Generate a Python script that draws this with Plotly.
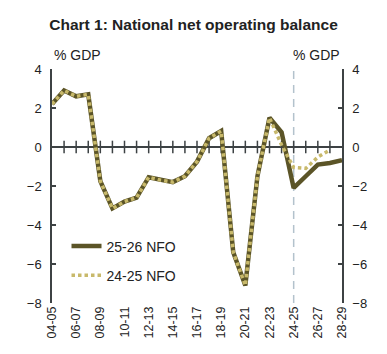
import plotly.graph_objects as go

categories = ["04-05","05-06","06-07","07-08","08-09","09-10","10-11","11-12","12-13",
              "13-14","14-15","15-16","16-17","17-18","18-19","19-20","20-21","21-22",
              "22-23","23-24","24-25","25-26","26-27","27-28","28-29"]
nfo_2526 = [2.2, 2.9, 2.6, 2.7, -1.75, -3.15, -2.8, -2.6, -1.55, -1.7, -1.8, -1.5, -0.75,
            0.45, 0.82, -5.4, -7.1, -1.5, 1.5, 0.75, -2.1, -1.5, -0.9, -0.82, -0.68]
nfo_2425 = [2.2, 2.9, 2.6, 2.7, -1.75, -3.15, -2.8, -2.6, -1.55, -1.7, -1.8, -1.5, -0.75,
            0.45, 0.82, -5.4, -7.1, -1.5, 1.5, 0.1, -1.05, -1.1, -0.52, -0.15, None]
y_ticks = [-8, -6, -4, -2, 0, 2, 4]
x_labels = categories[::2]

DARK = "#5b5427"
LIGHT = "#c8b96b"
AXIS = "#3d4244"
TXT = "#222222"
FONT = "Liberation Sans, Arial, sans-serif"

fig = go.Figure()
# category tick marks across the zero line
fig.add_trace(go.Scatter(x=categories[1:-1], y=[0]*(len(categories)-2), mode="markers",
                         marker=dict(symbol="line-ns", size=9, line=dict(color=AXIS, width=1.5)),
                         showlegend=False, hoverinfo="skip", cliponaxis=False))
fig.add_trace(go.Scatter(x=categories, y=nfo_2526, mode="lines", name="25-26 NFO",
                         line=dict(color=DARK, width=4.5), cliponaxis=False,
                         legendgroup="a"))
fig.add_trace(go.Scatter(x=categories, y=nfo_2425, mode="lines", name="24-25 NFO",
                         line=dict(color=LIGHT, width=3.5, dash="3.5px,3px"), cliponaxis=False,
                         legendgroup="b", yaxis="y2"))

fig.add_shape(type="line", xref="x", yref="y", x0="24-25", x1="24-25", y0=-8, y1=4,
              line=dict(color="#b3c2cc", width=1.5, dash="8px,6px"), layer="below")

fig.update_layout(
    width=387, height=354,
    margin=dict(l=52, r=45, t=69, b=51),
    plot_bgcolor="white", paper_bgcolor="white",
    font=dict(family=FONT, color=TXT, size=12),
    title=dict(text="<b>Chart 1: National net operating balance</b>", x=0.5, xanchor="center",
               y=1 - 25/354, yanchor="middle", font=dict(size=15.5, color=TXT)),
    showlegend=True,
    legend=dict(x=0.05, y=0.31, xanchor="left", yanchor="top", bgcolor="rgba(0,0,0,0)",
                font=dict(size=14, color=TXT), tracegroupgap=8, traceorder="grouped"),
    xaxis=dict(type="category", categoryorder="array", categoryarray=categories,
               range=[0, 24], showgrid=False, showline=False, zeroline=False,
               tickmode="array", tickvals=x_labels, ticktext=x_labels, tickangle=-90,
               ticks="", tickfont=dict(size=12.5, color=TXT)),
    yaxis=dict(range=[-8, 4], tickvals=y_ticks, showgrid=False, showline=True,
               linecolor=AXIS, linewidth=1.5, ticks="inside", ticklen=4, tickcolor=AXIS,
               tickwidth=1.5, zeroline=True, zerolinecolor=AXIS, zerolinewidth=1.5,
               tickfont=dict(size=13, color=TXT), ticklabelstandoff=6),
    yaxis2=dict(range=[-8, 4], tickvals=y_ticks, overlaying="y", side="right", showgrid=False,
                showline=True, linecolor=AXIS, linewidth=1.5, ticks="inside", ticklen=4,
                tickcolor=AXIS, tickwidth=1.5, zeroline=False,
                tickfont=dict(size=13, color=TXT), ticklabelstandoff=6),
    annotations=[
        dict(text="% GDP", xref="paper", yref="paper", x=0, y=1 + 14/234, xanchor="left",
             yanchor="middle", showarrow=False, font=dict(size=14, color=TXT)),
        dict(text="% GDP", xref="paper", yref="paper", x=1, y=1 + 14/234, xanchor="right",
             yanchor="middle", showarrow=False, font=dict(size=14, color=TXT)),
    ],
)
fig.write_html("out.html")
